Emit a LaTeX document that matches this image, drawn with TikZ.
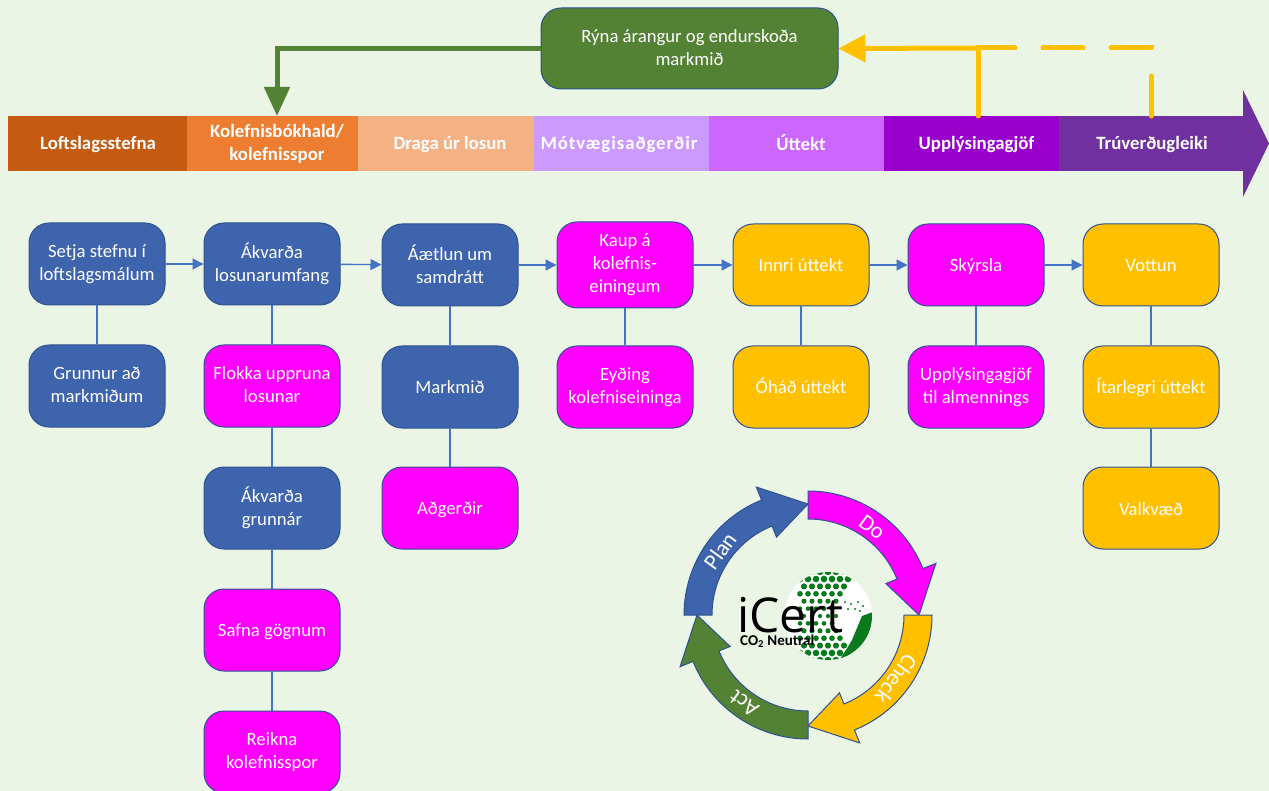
\documentclass[tikz,border=0pt]{standalone}
\usepackage{fontspec}
\usepackage{xcolor}
\setmainfont{Carlito}
\newfontfamily\logofont{Open Sans}
\usetikzlibrary{arrows.meta}

\definecolor{pagegreen}{HTML}{EAF5E6}
\definecolor{boxblue}{HTML}{3E64AD}
\definecolor{boxpink}{HTML}{FF00FF}
\definecolor{boxyellow}{HTML}{FFC000}
\definecolor{boxgreen}{HTML}{548235}
\definecolor{edgeblue}{HTML}{2F528F}
\definecolor{linkblue}{HTML}{4472C4}
\definecolor{logogreen}{HTML}{0B7A1E}
\definecolor{bandA}{HTML}{C55A11}
\definecolor{bandB}{HTML}{ED7D31}
\definecolor{bandC}{HTML}{F4B183}
\definecolor{bandD}{HTML}{CC99FF}
\definecolor{bandE}{HTML}{CC66FF}
\definecolor{bandF}{HTML}{9900CC}
\definecolor{bandG}{HTML}{7030A0}

\begin{document}
\begin{tikzpicture}
  [x=1pt,y=-1pt,
   evenline/.style={execute at begin node={\rule{0pt}{16pt}},execute at end node={\rule[-2pt]{0pt}{2pt}}},
   stepbox/.style={draw=edgeblue,line width=1pt,rounded corners=20pt,minimum width=136pt,
     minimum height=82pt,align=center,text=white,font=\fontsize{18.7}{23}\selectfont,inner sep=0pt,
     evenline},
   blue/.style={stepbox,fill=boxblue},
   pink/.style={stepbox,fill=boxpink},
   gold/.style={stepbox,fill=boxyellow},
   bandbox/.style={minimum height=55pt,inner sep=0pt},
   bandtext/.style={inner sep=0pt,align=center,text=white,evenline,
     font=\fontsize{18.8}{23}\selectfont\bfseries},
   link/.style={draw=linkblue,line width=1.4pt},
   flow/.style={link,-{Triangle[length=11pt,width=11pt]}},
   goldline/.style={draw=boxyellow,line width=5pt,line cap=round}]

  \useasboundingbox (0,0) rectangle (1269,791);
  \clip (0,0) rectangle (1269,791);
  \fill[pagegreen] (0,0) rectangle (1269,791);

  % band
  \fill[bandG] (1243,90) -- (1269,143.5) -- (1243,197) -- cycle;
  \foreach \i/\col/\x/\w in {1/bandA/97.5/179,2/bandB/272.5/171,3/bandC/446/176,4/bandD/621.5/175,
    5/bandE/796.5/175,6/bandF/971.5/175,7/bandG/1151/184}
    \node[bandbox,fill=\col,minimum width=\w pt] (b\i) at (\x,143.5) {};

  \node[bandtext] (t1) at (98,143.5) {Loftslagsstefna};
  \node[bandtext] (t2) at (277,143.5) {Kolefnisbókhald/\\kolefnisspor};
  \node[bandtext] (t3) at (450,143.5) {Draga úr losun};
  \node[bandtext] (t4) at (619,143.5) {\addfontfeature{LetterSpace=5}Mótvægisaðgerðir};
  \node[bandtext] (t5) at (801,143.5) {Úttekt};
  \node[bandtext] (t6) at (976.5,143.5) {Upplýsingagjöf};
  \node[bandtext] (t7) at (1152,143.5) {Trúverðugleiki};

  % review
  \node[stepbox,fill=boxgreen,minimum width=297pt,minimum height=81pt] (review) at (689.5,48.5)
    {Rýna árangur og endurskoða\\markmið};
  \coordinate (gtip) at (277,116);
  \coordinate (utop) at (978,116);
  \coordinate (ttop) at (1151,116);
  \coordinate (ucross) at (978,48);
  \coordinate (tcorner) at (1151,48);

  \draw[draw=boxgreen,line width=5pt,-{Triangle[length=29pt,width=25pt]}]
    (review.west) -| (gtip);
  \draw[goldline,dash pattern=on 40pt off 28pt] (ttop) -- (tcorner) -- (ucross);
  \draw[goldline] (utop) -- (ucross);
  \draw[goldline,line cap=butt,-{Triangle[length=27pt,width=27pt]}] (ucross) -- (review.east);

  % steps
  \node[blue] (n11) at (97,264) {Setja stefnu í\\loftslagsmálum};
  \node[blue] (n12) at (97,386) {Grunnur að\\markmiðum};

  \node[blue] (n21) at (272,264) {Ákvarða\\losunarumfang};
  \node[pink] (n22) at (272,386) {Flokka uppruna\\losunar};
  \node[blue] (n23) at (272,508) {Ákvarða\\grunnár};
  \node[pink] (n24) at (272,630) {Safna gögnum};
  \node[pink] (n25) at (272,752) {Reikna\\kolefnisspor};

  \node[blue] (n31) at (450,265) {Áætlun um\\samdrátt};
  \node[blue] (n32) at (450,387) {Markmið};
  \node[pink] (n33) at (450,508) {Aðgerðir};

  \node[pink,minimum height=86pt] (n41) at (625,265) {Kaup á\\kolefnis-\\einingum};
  \node[pink] (n42) at (625,387) {Eyðing\\kolefniseininga};

  \node[gold] (n51) at (801,265) {Innri úttekt};
  \node[gold] (n52) at (801,387) {Óháð úttekt};

  \node[pink] (n61) at (976,265) {Skýrsla};
  \node[pink] (n62) at (976,387) {Upplýsingagjöf\\til almennings};

  \node[gold] (n71) at (1151,265) {Vottun};
  \node[gold] (n72) at (1151,387) {Ítarlegri úttekt};
  \node[gold] (n73) at (1151,508) {Valkvæð};

  \foreach \from/\to in
  {n11/n21,n21/n31,n31/n41,n41/n51,n51/n61,n61/n71}
    \draw[flow] (\from) -- (\to);

  \foreach \from/\to in
  {n11/n12,n21/n22,n22/n23,n23/n24,n24/n25,n31/n32,n32/n33,n41/n42,n51/n52,n61/n62,n71/n72,n72/n73}
    \draw[link] (\from) -- (\to);

  % logo
  \begin{scope}
    \clip (828,616) circle (44pt);
    \fill[white] (828,616) circle (44pt);
    \foreach \r in {-6,...,6}
      \foreach \c in {-5,...,5} {
        \pgfmathsetmacro{\gx}{\c*8+mod(\r+6,2)*4}
        \pgfmathsetmacro{\gy}{\r*7.4}
        \pgfmathsetmacro{\gr}{2.1+abs(\r)*0.25}
        \pgfmathparse{(\gx>-31 && \gx<(9+abs(\r)*2.8)) ? 1 : 0}
        \ifnum\pgfmathresult=1
          \fill[logogreen] (828+\gx,616+\gy) circle (\gr pt);
        \fi
      }
    \fill[logogreen] (862,616) -- (873,612) -- (872,640) -- (850,658) -- (838,662) -- (846,650)
      -- (852,640) -- (857,628) -- cycle;
    \foreach \sx/\sy in {845/602,851/604,858/602,863/606,855/609,860/611,848/609}
      \fill[logogreen] (\sx,\sy) circle (1.1pt);
  \end{scope}
  \node[inner sep=0pt,anchor=base west,font=\logofont\fontsize{48}{48}\selectfont] (icert) at (737,632) {iCert};
  \node[inner sep=0pt,anchor=base west,font=\fontsize{15}{15}\selectfont\bfseries] (neutral) at (740,645)
    {CO\textsubscript{2} Neutral};

  % cycle
  \begin{scope}[shift={(808,615)},y=1pt]
    \foreach \ang/\col/\lab in {180/boxblue/Plan,90/boxpink/Do,0/boxyellow/Check,270/boxgreen/Act} {
      \draw[draw=edgeblue,line width=1pt,fill=\col]
        (\ang:124pt) arc[start angle=\ang,end angle=\ang-68,radius=124pt]
        -- ({\ang-68}:138pt) -- ({\ang-90}:111pt) -- ({\ang-68}:84pt) -- ({\ang-68}:96pt)
        arc[start angle=\ang-68,end angle=\ang,radius=96pt] -- cycle;
      \node[text=white,inner sep=0pt,font=\fontsize{22.5}{22.5}\selectfont,rotate=\ang-126] (\lab)
        at ({\ang-36}:109pt) {\lab};
    }
  \end{scope}
\end{tikzpicture}
\end{document}
